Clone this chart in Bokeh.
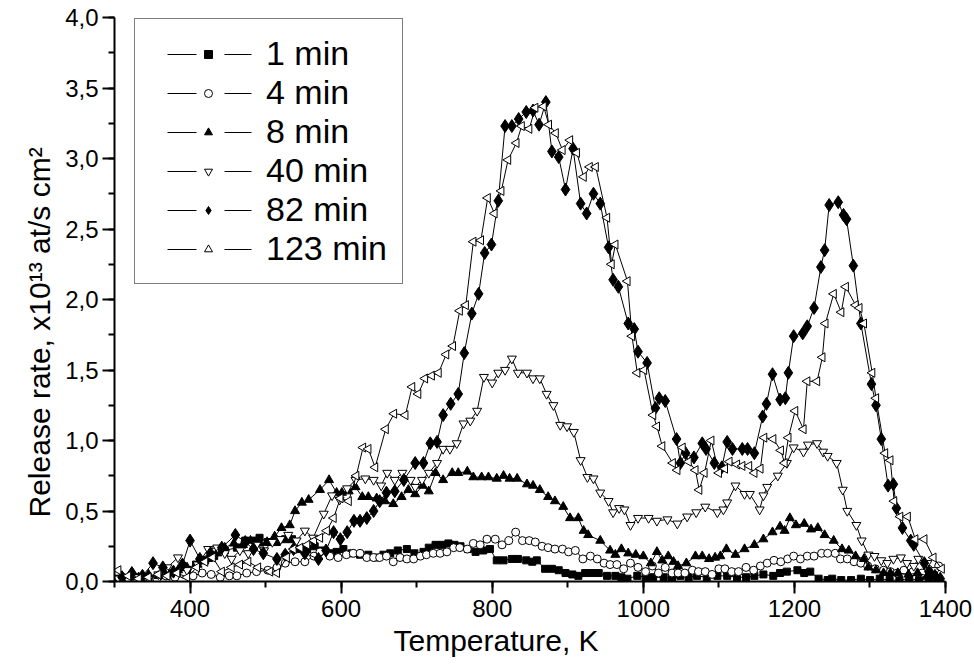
import math
from bokeh.plotting import figure
from bokeh.models import (FixedTicker, CustomJSTickFormatter, Legend, LegendItem, Title)
from bokeh.embed import file_html
from bokeh.resources import INLINE

# ---------------- data (Temperature K, release rate x1e13 at/s cm^2) ----------------
labels = ["1 min", "4 min", "8 min", "40 min", "82 min", "123 min"]

t_1min = [305, 318, 332, 345, 358, 371, 384, 396, 408, 420, 432, 446, 462, 473, 486, 492, 503, 515, 526, 535,
          542, 555, 565, 575, 585, 594, 603, 614, 625, 636, 646, 656, 665, 675, 687, 697, 709, 716, 725, 734,
          742, 750, 758, 768, 778, 788, 797, 806, 815, 826, 834, 845, 853, 859, 870, 879, 888, 897, 906, 914,
          923, 932, 941, 952, 963, 971, 979, 992, 1003, 1013, 1027, 1038, 1049, 1060, 1071, 1084, 1098, 1111,
          1124, 1136, 1147, 1159, 1172, 1181, 1190, 1204, 1213, 1221, 1232, 1244, 1250, 1262, 1275, 1288, 1300,
          1313, 1326, 1339, 1352, 1365, 1378, 1390]
v_1min = [0.02, 0.01, 0.03, 0.02, 0.04, 0.05, 0.06, 0.08, 0.12, 0.15, 0.18, 0.22, 0.24, 0.29, 0.29, 0.31, 0.28, 0.28, 0.30, 0.30,
          0.23, 0.23, 0.25, 0.22, 0.20, 0.21, 0.23, 0.20, 0.19, 0.19, 0.17, 0.19, 0.20, 0.22, 0.23, 0.20, 0.21, 0.24, 0.26, 0.26,
          0.27, 0.26, 0.25, 0.23, 0.21, 0.22, 0.23, 0.15, 0.15, 0.16, 0.16, 0.15, 0.14, 0.15, 0.09, 0.09, 0.08, 0.06, 0.05, 0.04,
          0.06, 0.06, 0.06, 0.04, 0.04, 0.03, 0.02, 0.04, 0.03, 0.03, 0.03, 0.02, 0.04, 0.03, 0.04, 0.03, 0.04, 0.04,
          0.03, 0.03, 0.04, 0.05, 0.04, 0.06, 0.07, 0.08, 0.06, 0.07, 0.02, 0.01, 0.02, 0.01, 0.01, 0.02, 0.01,
          0.02, 0.01, 0.01, 0.02, 0.01, 0.02, 0.01]

t_4min = [305, 318, 330, 343, 356, 368, 380, 392, 404, 416, 428, 440, 452, 462, 475, 488, 503, 515, 526, 539,
          552, 564, 572, 585, 596, 607, 616, 625, 634, 643, 651, 660, 669, 678, 687, 696, 705, 713, 722, 731,
          740, 749, 757, 767, 775, 784, 793, 804, 813, 822, 831, 840, 849, 857, 866, 874, 883, 893, 901, 910,
          920, 930, 939, 948, 956, 965, 974, 983, 993, 1003, 1012, 1020, 1029, 1038, 1046, 1055, 1065, 1073,
          1082, 1091, 1100, 1108, 1117, 1126, 1136, 1146, 1155, 1164, 1173, 1182, 1191, 1199, 1208, 1217, 1226,
          1236, 1244, 1254, 1261, 1270, 1279, 1288, 1297, 1307, 1318, 1327, 1336, 1345, 1357, 1369, 1380, 1391]
v_4min = [0.01, 0.02, 0.01, 0.03, 0.02, 0.04, 0.03, 0.05, 0.04, 0.06, 0.05, 0.03, 0.04, 0.04, 0.06, 0.07, 0.08, 0.10, 0.13, 0.14,
          0.14, 0.18, 0.21, 0.18, 0.17, 0.19, 0.20, 0.20, 0.17, 0.17, 0.17, 0.18, 0.14, 0.17, 0.16, 0.16, 0.18, 0.19, 0.20, 0.20,
          0.21, 0.24, 0.24, 0.23, 0.27, 0.26, 0.30, 0.30, 0.26, 0.29, 0.35, 0.29, 0.29, 0.28, 0.25, 0.24, 0.23, 0.23, 0.21, 0.22,
          0.16, 0.18, 0.16, 0.13, 0.12, 0.12, 0.09, 0.13, 0.10, 0.07, 0.11, 0.06, 0.10, 0.06, 0.06, 0.06, 0.08, 0.07,
          0.07, 0.05, 0.09, 0.09, 0.07, 0.07, 0.10, 0.08, 0.11, 0.13, 0.15, 0.14, 0.16, 0.18, 0.16, 0.18, 0.18,
          0.20, 0.20, 0.20, 0.16, 0.16, 0.14, 0.13, 0.11, 0.09, 0.08, 0.07, 0.06, 0.08, 0.07, 0.06, 0.06, 0.11]

t_8min = [305, 318, 332, 345, 358, 370, 384, 396, 410, 424, 436, 446, 458, 470, 480, 492, 502, 512, 521, 532,
          539, 548, 557, 572, 584, 594, 601, 610, 619, 628, 636, 647, 658, 669, 680, 689, 698, 708, 716, 725,
          735, 747, 755, 767, 775, 786, 795, 806, 815, 823, 833, 846, 854, 863, 874, 883, 894, 903, 914, 921,
          927, 943, 956, 963, 971, 980, 990, 1000, 1010, 1018, 1025, 1033, 1040, 1046, 1057, 1069, 1078, 1087,
          1095, 1102, 1110, 1122, 1134, 1147, 1159, 1171, 1181, 1187, 1194, 1202, 1213, 1222, 1231, 1240, 1252,
          1263, 1272, 1281, 1292, 1298, 1308, 1318, 1327, 1337, 1351, 1363, 1376, 1387]
v_8min = [0.01, 0.02, 0.03, 0.05, 0.04, 0.06, 0.08, 0.10, 0.12, 0.16, 0.20, 0.24, 0.27, 0.26, 0.29, 0.27, 0.28, 0.32, 0.38, 0.40,
          0.50, 0.56, 0.58, 0.65, 0.72, 0.63, 0.63, 0.64, 0.67, 0.60, 0.60, 0.59, 0.57, 0.55, 0.60, 0.65, 0.62, 0.68, 0.64, 0.77,
          0.72, 0.77, 0.77, 0.78, 0.74, 0.74, 0.74, 0.73, 0.75, 0.73, 0.73, 0.69, 0.68, 0.65, 0.60, 0.57, 0.53, 0.45, 0.45, 0.36,
          0.33, 0.29, 0.22, 0.19, 0.23, 0.20, 0.19, 0.18, 0.13, 0.21, 0.15, 0.18, 0.14, 0.11, 0.13, 0.18, 0.18, 0.16,
          0.17, 0.18, 0.23, 0.19, 0.23, 0.26, 0.30, 0.35, 0.39, 0.36, 0.45, 0.40, 0.41, 0.37, 0.38, 0.33, 0.29,
          0.23, 0.22, 0.18, 0.16, 0.10, 0.08, 0.06, 0.06, 0.06, 0.05, 0.06, 0.04, 0.04]

t_40min = [305, 318, 332, 345, 358, 370, 384, 396, 410, 424, 436, 446, 455, 466, 477, 488, 498, 509, 520, 530,
           541, 552, 563, 577, 588, 598, 608, 619, 632, 643, 653, 661, 671, 681, 692, 698, 707, 716, 727, 735,
           744, 753, 762, 771, 780, 789, 800, 808, 817, 826, 834, 846, 854, 863, 872, 881, 890, 899, 908, 917,
           926, 934, 943, 954, 960, 968, 975, 983, 993, 1007, 1018, 1032, 1045, 1058, 1070, 1082, 1098, 1106,
           1111, 1122, 1134, 1141, 1154, 1159, 1164, 1178, 1190, 1199, 1212, 1218, 1230, 1238, 1244, 1256, 1264,
           1270, 1282, 1289, 1298, 1306, 1315, 1323, 1331, 1341, 1349, 1358, 1364, 1376, 1387]
v_40min = [0.02, 0.01, 0.03, 0.02, 0.05, 0.10, 0.17, 0.08, 0.12, 0.23, 0.24, 0.20, 0.16, 0.22, 0.20, 0.26, 0.22, 0.28, 0.30, 0.33,
           0.29, 0.36, 0.31, 0.48, 0.61, 0.58, 0.66, 0.72, 0.73, 0.72, 0.68, 0.77, 0.72, 0.77, 0.72, 0.67, 0.72, 0.77, 0.84, 0.94,
           0.94, 0.98, 1.12, 1.14, 1.21, 1.45, 1.41, 1.48, 1.50, 1.58, 1.48, 1.48, 1.44, 1.44, 1.33, 1.25, 1.11, 1.10, 1.06, 0.86,
           0.74, 0.73, 0.63, 0.57, 0.49, 0.52, 0.51, 0.40, 0.45, 0.45, 0.43, 0.44, 0.41, 0.46, 0.49, 0.53, 0.49, 0.51,
           0.56, 0.68, 0.62, 0.62, 0.51, 0.61, 0.67, 0.75, 0.84, 0.95, 0.92, 0.97, 0.98, 0.92, 0.89, 0.84, 0.65,
           0.50, 0.40, 0.29, 0.19, 0.18, 0.15, 0.13, 0.16, 0.17, 0.13, 0.11, 0.16, 0.13, 0.08]

t_82min = [310, 323, 337, 351, 364, 378, 390, 400, 413, 427, 442, 460, 473, 484, 497, 515, 526, 537, 552, 570,
           580, 590, 599, 608, 617, 625, 634, 643, 651, 660, 671, 683, 698, 709, 718, 727, 735, 745, 755, 763,
           773, 782, 790, 799, 808, 817, 826, 835, 845, 854, 862, 871, 879, 888, 897, 907, 917, 925, 934, 943,
           954, 960, 967, 980, 988, 993, 1005, 1016, 1021, 1029, 1044, 1049, 1056, 1067, 1078, 1083, 1094, 1104,
           1111, 1118, 1131, 1138, 1147, 1158, 1163, 1171, 1181, 1188, 1192, 1199, 1211, 1217, 1226, 1235, 1240,
           1246, 1258, 1265, 1269, 1278, 1288, 1302, 1308, 1315, 1324, 1331, 1335, 1343, 1354, 1358, 1372, 1378,
           1386, 1393]
v_82min = [0.03, 0.06, 0.04, 0.13, 0.10, 0.07, 0.12, 0.29, 0.16, 0.20, 0.24, 0.33, 0.28, 0.23, 0.20, 0.16, 0.19, 0.23, 0.20, 0.16,
           0.22, 0.35, 0.30, 0.35, 0.43, 0.43, 0.45, 0.50, 0.57, 0.63, 0.64, 0.72, 0.84, 0.84, 0.98, 0.99, 1.18, 1.26, 1.33, 1.62,
           1.90, 2.04, 2.33, 2.39, 2.70, 3.23, 3.23, 3.28, 3.33, 3.34, 3.24, 3.40, 3.05, 3.01, 2.78, 3.07, 2.68, 2.61, 2.75, 2.68,
           2.37, 2.14, 2.09, 1.83, 1.79, 1.63, 1.55, 1.23, 1.30, 1.28, 1.01, 0.84, 0.91, 0.88, 0.98, 0.94, 0.84, 0.81,
           0.99, 0.94, 0.94, 0.94, 0.91, 1.17, 1.26, 1.47, 1.29, 1.30, 1.48, 1.74, 1.76, 1.81, 1.94, 2.23, 2.35,
           2.67, 2.69, 2.60, 2.57, 2.24, 1.83, 1.40, 1.25, 1.01, 0.68, 0.69, 0.52, 0.38, 0.29, 0.26, 0.13, 0.07,
           0.04, 0.02]

t_123min = [305, 318, 332, 345, 358, 370, 383, 396, 409, 420, 430, 442, 455, 466, 477, 490, 506, 515, 528, 537,
            546, 555, 564, 572, 581, 590, 599, 610, 620, 629, 636, 645, 659, 670, 685, 694, 702, 711, 720, 729,
            739, 748, 757, 765, 775, 785, 794, 803, 812, 821, 832, 839, 849, 857, 868, 875, 884, 893, 903, 912,
            921, 929, 937, 952, 958, 963, 979, 985, 992, 1001, 1013, 1018, 1025, 1039, 1045, 1052, 1060, 1069,
            1074, 1081, 1090, 1100, 1108, 1114, 1124, 1131, 1140, 1147, 1155, 1160, 1172, 1182, 1187, 1192, 1201,
            1212, 1217, 1230, 1237, 1241, 1252, 1262, 1268, 1281, 1286, 1292, 1303, 1308, 1320, 1327, 1332, 1340,
            1350, 1360, 1372, 1384, 1395]
v_123min = [0.08, 0.04, 0.02, 0.03, 0.05, 0.04, 0.06, 0.03, 0.10, 0.14, 0.17, 0.07, 0.10, 0.12, 0.14, 0.10, 0.07, 0.06, 0.17, 0.23,
            0.24, 0.26, 0.29, 0.31, 0.36, 0.45, 0.59, 0.57, 0.75, 0.95, 0.94, 0.81, 1.08, 1.19, 1.18, 1.38, 1.33, 1.44, 1.46, 1.48,
            1.61, 1.67, 1.92, 1.96, 2.41, 2.42, 2.72, 2.61, 2.77, 2.99, 3.11, 3.23, 3.21, 3.36, 3.37, 3.24, 3.18, 3.06, 3.13, 3.04,
            2.87, 2.94, 2.94, 2.58, 2.25, 2.39, 2.13, 1.74, 1.48, 1.50, 1.18, 1.10, 0.96, 0.84, 0.79, 0.95, 0.85, 0.79,
            0.65, 0.77, 1.00, 0.77, 0.80, 0.85, 0.83, 0.82, 0.82, 0.77, 0.80, 1.02, 1.01, 0.93, 0.84, 1.02, 1.21,
            1.08, 1.42, 1.42, 1.59, 1.83, 2.04, 1.91, 2.09, 1.96, 1.94, 1.83, 1.48, 1.30, 0.91, 0.86, 0.57, 0.46,
            0.46, 0.30, 0.30, 0.17, 0.09]

x_major = [400, 600, 800, 1000, 1200, 1400]
x_minor = [300, 400, 500, 600, 700, 800, 900, 1000, 1100, 1200, 1300, 1400]
y_major = [0.0, 0.5, 1.0, 1.5, 2.0, 2.5, 3.0, 3.5, 4.0]
y_minor = [0.0, 0.25, 0.5, 0.75, 1.0, 1.25, 1.5, 1.75, 2.0, 2.25, 2.5, 2.75, 3.0, 3.25, 3.5, 3.75, 4.0]

x_title = "Temperature, K"
y_title = "Release rate, x10\u00b9\u00b3 at/s cm\u00b2"

FONT = "Liberation Sans"
NAN = float("nan")

p = figure(width=974, height=665, x_range=(300, 1400), y_range=(0, 4.0),
           output_backend="svg", toolbar_location=None,
           min_border_left=114, min_border_right=29, min_border_top=17, min_border_bottom=84)
p.outline_line_color = None
p.xgrid.visible = False
p.ygrid.visible = False
p.background_fill_color = "white"
p.border_fill_color = "white"

for ax in (p.xaxis[0], p.yaxis[0]):
    ax.axis_line_width = 2
    ax.major_tick_line_width = 2
    ax.minor_tick_line_width = 2
    ax.major_tick_in = 0
    ax.major_tick_out = 12
    ax.minor_tick_in = 0
    ax.minor_tick_out = 6
    ax.major_label_text_font = FONT
    ax.major_label_text_font_size = "24px"
    ax.major_label_text_color = "black"

p.xaxis.ticker = FixedTicker(ticks=x_major, minor_ticks=x_minor)
p.yaxis.ticker = FixedTicker(ticks=y_major, minor_ticks=y_minor)
p.yaxis.formatter = CustomJSTickFormatter(code="return tick.toFixed(1).replace('.', ',');")
p.xaxis.major_label_standoff = 6
p.yaxis.major_label_standoff = 4

xt = Title(text=x_title, align="left", offset=279, text_font=FONT, text_font_size="30px",
           text_font_style="normal", text_color="black", standoff=4)
p.add_layout(xt, "below")
yt = Title(text=y_title, align="left", offset=64, text_font=FONT, text_font_size="30px",
           text_font_style="normal", text_color="black", standoff=14)
p.add_layout(yt, "left")

series = [
    (t_1min, v_1min, "square", 7, "black", 0),
    (t_4min, v_4min, "circle", 8, "white", 0),
    (t_8min, v_8min, "triangle", 9, "black", 0),
    (t_40min, v_40min, "inverted_triangle", 9, "white", 0),
    (t_82min, v_82min, "diamond", 13, "black", 0),
    (t_123min, v_123min, "triangle", 9, "white", math.pi / 2),
]

items = []
for (t, v, mk, sz, fill, ang), lab in zip(series, labels):
    p.line(t, v, line_color="black", line_width=1)
    sc = p.scatter(t, v, marker=mk, size=sz, fill_color=fill, line_color="black",
                   line_width=1, angle=ang)
    # legend-only line sample (broken around the marker, as in the original legend)
    leg_line = p.line([NAN], [NAN], line_color="black", line_width=1,
                      line_dash="29 28 27 32", line_dash_offset=99)
    items.append(LegendItem(label=lab, renderers=[leg_line, sc]))

legend = Legend(items=items, location=(20, 297), orientation="vertical",
                border_line_color="black", border_line_width=1,
                background_fill_color="white", background_fill_alpha=1.0,
                label_text_font=FONT, label_text_font_size="34px", label_text_color="black",
                glyph_width=116, glyph_height=20, label_standoff=0,
                padding=15, spacing=0, margin=0)
p.add_layout(legend)

open("out.html", "w").write(file_html(p, INLINE))
